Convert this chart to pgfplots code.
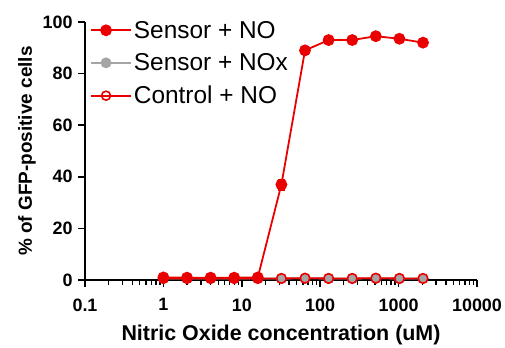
\documentclass[border=0pt]{standalone}
\usepackage{fontspec}
\setmainfont{Liberation Sans}
\usepackage{pgfplots}
\pgfplotsset{compat=1.18}
\definecolor{cred}{RGB}{235,0,0}
\definecolor{cgrey}{RGB}{165,165,165}
\begin{document}
\begin{tikzpicture}
\begin{axis}[name=ax,
  scale only axis, width=392bp, height=258bp,
  xmode=log, log basis x=10,
  xmin=0.1, xmax=10000, ymin=0, ymax=100,
  axis x line*=bottom, axis y line*=left,
  axis line style={line width=2pt, -},
  xtick pos=bottom, ytick pos=left,
  xtick align=outside, ytick align=outside,
  major tick style={black, line width=1.6pt},
  minor tick style={black, line width=1.4pt},
  major tick length=7bp, minor tick length=4.5bp,
  xtick={0.1,1,10,100,1000,10000},
  xticklabels={0.1,1,10,100,1000,10000},
  minor xtick={0.2,0.3,0.4,0.5,0.6,0.7,0.8,0.9,2,3,4,5,6,7,8,9,20,30,40,50,60,70,80,90,200,300,400,500,600,700,800,900,2000,3000,4000,5000,6000,7000,8000,9000},
  ytick={0,20,40,60,80,100},
  /pgf/number format/assume math mode=true,
  tick label style={font=\fontsize{18}{20}\selectfont\bfseries},
  xticklabel style={yshift=-8bp},
  yticklabel style={xshift=-2bp},
  xlabel={Nitric Oxide concentration (uM)},
  ylabel={\% of GFP-positive cells},
  xlabel style={font=\fontsize{21.5}{24}\selectfont\bfseries, yshift=-7bp},
  ylabel style={font=\fontsize{19}{22}\selectfont\bfseries},
  clip=false,
  legend style={at={(0.005,1.02)}, anchor=north west, draw=none, fill=none,
    font=\fontsize{24.5}{28}\selectfont, row sep=10bp, legend cell align=left},
  legend image code/.code={
    \draw[mark repeat=2,mark phase=2] plot coordinates {(0bp,0bp) (15bp,0bp) (30bp,0bp)};
    \path (0bp,0bp) -- (40bp,0bp);},
]
\addlegendimage{cred, line width=1.8pt, mark=*, mark size=5bp, mark options={fill=cred, draw=cred}}
\addlegendentry{Sensor + NO}
\addlegendimage{cgrey, line width=1.8pt, mark=*, mark size=4.5bp, mark options={fill=cgrey, draw=cgrey}}
\addlegendentry{Sensor + NOx}
\addlegendimage{cred, line width=1.8pt, mark=o, mark size=4.5bp, mark options={draw=cred, fill=white, line width=1.6pt}}
\addlegendentry{Control + NO}

\addplot[cgrey, line width=1.8pt, mark=*, mark size=4.5bp, mark options={fill=cgrey, draw=cgrey}, forget plot]
coordinates {(1,0.6) (2,0.6) (4,0.6) (8,0.6) (16,0.6) (32,0.6) (64,0.7) (128,0.6) (256,0.6) (512,0.7) (1024,0.6) (2048,0.6)};
\addplot[cred, line width=1.8pt, mark=o, mark size=4.8bp, mark options={draw=cred, fill=none, line width=1.6pt}, forget plot]
coordinates {(1,0.6) (2,0.6) (4,0.6) (8,0.6) (16,0.6) (32,0.6) (64,0.7) (128,0.6) (256,0.6) (512,0.7) (1024,0.6) (2048,0.6)};
\addplot[cred, line width=1.8pt, mark=*, mark size=5bp, mark options={fill=cred, draw=cred}, forget plot,
  error bars/.cd, y dir=both, y explicit, error bar style={line width=1.6pt}, error mark options={line width=1.6pt, mark size=3.5bp, rotate=90}]
coordinates {(1,1.0) +- (0,0.3) (2,0.9) +- (0,0.3) (4,0.9) +- (0,0.3) (8,0.9) +- (0,0.3) (16,1.0) +- (0,0.3)
 (32,37) +- (0,2) (64,89) +- (0,0.5) (128,93) +- (0,0.5) (256,93) +- (0,0.5) (512,94.5) +- (0,0.5) (1024,93.5) +- (0,0.5) (2048,92) +- (0,0.5)};
\end{axis}
\pgfresetboundingbox
\path[use as bounding box] ([shift={(-85bp,-67bp)}]ax.south west) rectangle ([shift={(28bp,22bp)}]ax.north east);
\end{tikzpicture}
\end{document}
